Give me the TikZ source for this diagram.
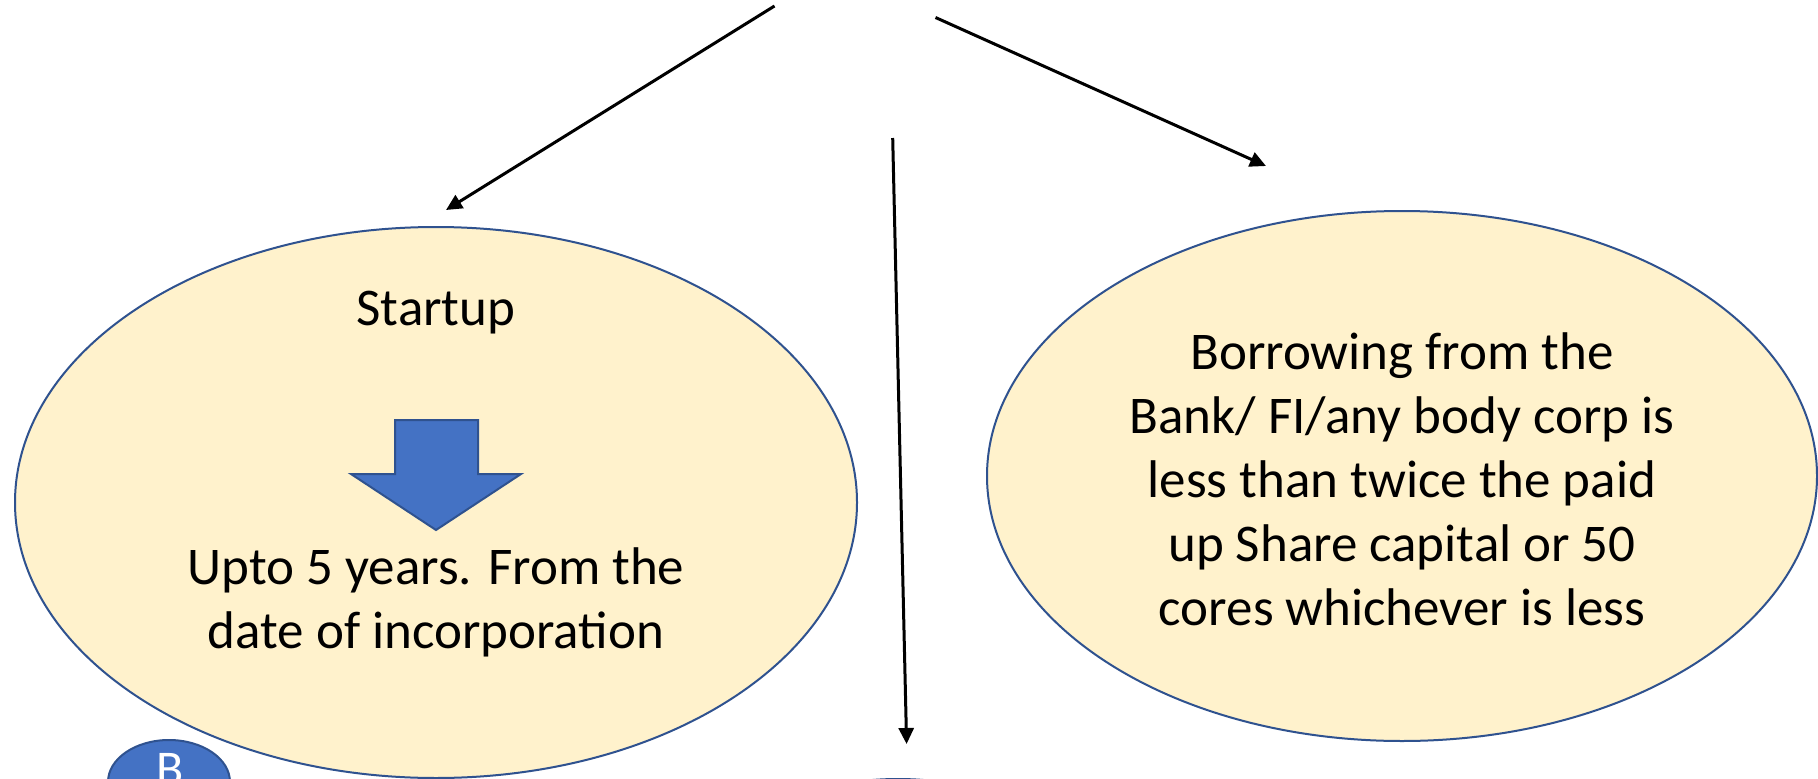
\documentclass[tikz,border=0pt]{standalone}
\usepackage{fontspec}
\setmainfont{Carlito}
\usetikzlibrary{shapes.geometric,arrows.meta}
\definecolor{ellfill}{HTML}{FFF2CC}
\definecolor{ellline}{HTML}{2F528F}
\definecolor{bluefill}{HTML}{4472C4}
\tikzset{
  bigell/.style={ellipse, draw=ellline, fill=ellfill, line width=2pt, inner sep=0pt},
  txt/.style={font=\fontsize{53}{64}\selectfont, align=center, text=black, inner sep=0pt},
  conn/.style={draw=black, line width=3pt, -{Triangle[length=16pt,width=15pt]}},
  blueell/.style={ellipse, draw=ellline, fill=bluefill, line width=2pt, inner sep=0pt}
}
\begin{document}
\begin{tikzpicture}[x=1pt,y=-1pt]
\useasboundingbox (0,0) rectangle (1818,779);
\clip (0,0) rectangle (1818,779);
\fill[white] (0,0) rectangle (1818,779);
% ellipses
\node[bigell, minimum width=842pt, minimum height=551pt] (startup) at (436,502.5) {};
\node[bigell, minimum width=830pt, minimum height=530pt] (borrow) at (1402,476) {};
\node[blueell, minimum width=122pt, minimum height=84pt] (bnode) at (169,782) {};
\node[font=\fontsize{50}{56}\selectfont, text=white, anchor=north, inner sep=0pt] (btext) at (170,753) {B};
\node[blueell, minimum width=300pt, minimum height=140pt] (bottom) at (898,849) {};
% texts
\node[txt] (t1) at (436,313) {Startup};
\node[txt] (t2) at (436,602) {Upto 5 years. From the\\date of incorporation};
\node[txt] (t3) at (1402,479) {Borrowing from the\\Bank/ FI/any body corp is\\less than twice the paid\\up Share capital or 50\\cores whichever is less};
% block arrow
\draw[fill=bluefill, draw=ellline, line width=2pt] (395,420) -- (478,420) -- (478,474) -- (521,474) -- (436,530) -- (351,474) -- (395,474) -- cycle;
% connector ends
\coordinate (s1) at (774.5,6);
\coordinate (e1) at (446,210);
\coordinate (s2) at (935.5,17.5);
\coordinate (e2) at (1266,166);
\coordinate (s3) at (892.7,138);
\coordinate (e3) at (906.6,744);
\draw[conn] (s1) -- (e1);
\draw[conn] (s2) -- (e2);
\draw[conn] (s3) -- (e3);
\end{tikzpicture}
\end{document}
